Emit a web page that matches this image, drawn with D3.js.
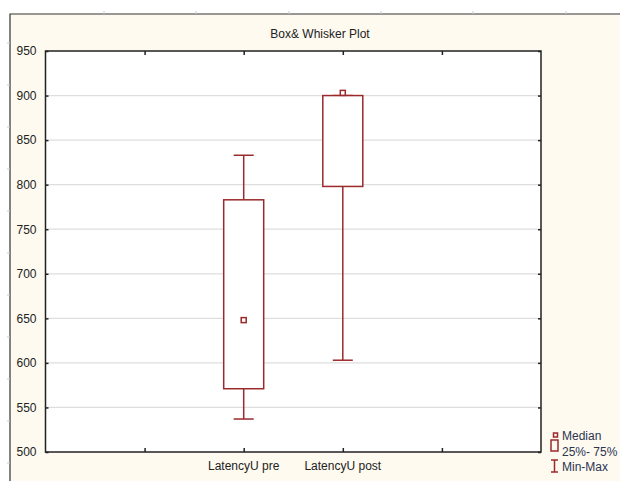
<!DOCTYPE html>
<html>
<head>
<meta charset="utf-8">
<script src="https://cdnjs.cloudflare.com/ajax/libs/d3/7.8.5/d3.min.js"></script>
<style>
  body { margin: 0; background: #fff; }
  svg { display: block; font-family: "Liberation Sans", Arial, sans-serif; }
</style>
</head>
<body>
<svg width="620" height="481"></svg>
<script>
// box & whisker values
var categories = ['LatencyU pre', 'LatencyU post'];
var catPos = [2, 3];
var mins = [537, 603];
var q1s = [571, 798];
var medians = [648, 903];
var q3s = [783, 900];
var maxs = [833, 900];
var yTicks = [500, 550, 600, 650, 700, 750, 800, 850, 900, 950];
var xTicks = [1, 2, 3, 4];
var legendLabels = ['Median', '25%- 75%', 'Min-Max'];

var svg = d3.select('svg');
var red = '#9a2a2c';
var plotL = 45.5, plotR = 541, plotT = 51, plotB = 452;

var x = d3.scaleLinear().domain([0, 5]).range([plotL, plotR]);
var y = d3.scaleLinear().domain([500, 950]).range([plotB, plotT]);

// outer frame
svg.append('rect').attr('x', 10).attr('y', 14).attr('width', 610).attr('height', 467).attr('fill', '#fefaf0');
svg.append('path').attr('d', 'M10,481V14H620').attr('fill', 'none').attr('stroke', '#333').attr('stroke-width', 1.2);
[104, 196, 289, 381, 473, 566].forEach(function(t) {
  svg.append('line').attr('x1', t).attr('x2', t).attr('y1', 11).attr('y2', 14).attr('stroke', '#c4cad6');
});
d3.range(43, 481, 42).forEach(function(t) {
  svg.append('line').attr('x1', 7).attr('x2', 10).attr('y1', t).attr('y2', t).attr('stroke', '#c4cad6');
});

svg.append('text').attr('x', 320).attr('y', 38).attr('text-anchor', 'middle')
  .attr('font-size', 12).attr('fill', '#222').text('Box& Whisker Plot');

// plot area
svg.append('rect').attr('x', plotL).attr('y', plotT).attr('width', plotR - plotL).attr('height', plotB - plotT).attr('fill', '#fff');

svg.append('g').selectAll('line').data(yTicks.slice(1, -1)).enter().append('line')
  .attr('x1', plotL).attr('x2', plotR)
  .attr('y1', function(d) { return y(d); }).attr('y2', function(d) { return y(d); })
  .attr('stroke', '#dedede').attr('stroke-width', 1.2);

var yAxis = svg.append('g').attr('transform', 'translate(' + plotL + ',0)')
  .call(d3.axisLeft(y).tickValues(yTicks).tickSize(-3).tickPadding(9));
var yAxisR = svg.append('g').attr('transform', 'translate(' + plotR + ',0)')
  .call(d3.axisRight(y).tickValues(yTicks).tickSize(-3).tickFormat(''));
var xAxis = svg.append('g').attr('transform', 'translate(0,' + plotB + ')')
  .call(d3.axisBottom(x).tickValues(xTicks).tickSize(-4).tickFormat(''));
var xAxisT = svg.append('g').attr('transform', 'translate(0,' + plotT + ')')
  .call(d3.axisTop(x).tickValues(xTicks).tickSize(-4).tickFormat(''));

[yAxis, yAxisR, xAxis, xAxisT].forEach(function(a) {
  a.select('.domain').remove();
  a.selectAll('line').attr('stroke', '#222').attr('stroke-width', 1.5);
  a.selectAll('text').attr('font-size', 12).attr('fill', '#222').attr('font-family', 'Liberation Sans, Arial, sans-serif');
});

svg.append('rect').attr('x', plotL).attr('y', plotT).attr('width', plotR - plotL).attr('height', plotB - plotT)
  .attr('fill', 'none').attr('stroke', '#222').attr('stroke-width', 1.5);

// category labels
svg.append('g').selectAll('text').data(categories).enter().append('text')
  .attr('x', function(d, i) { return x(catPos[i]); }).attr('y', plotB + 18)
  .attr('text-anchor', 'middle').attr('font-size', 12).attr('fill', '#222')
  .text(function(d) { return d; });

// boxes
var boxW = 40, capW = 20, medS = 5;
var g = svg.append('g').attr('fill', 'none').attr('stroke', red).attr('stroke-width', 1.5);
categories.forEach(function(c, i) {
  var cx = x(catPos[i]);
  g.append('line').attr('x1', cx).attr('x2', cx).attr('y1', y(maxs[i])).attr('y2', y(q3s[i]));
  g.append('line').attr('x1', cx).attr('x2', cx).attr('y1', y(q1s[i])).attr('y2', y(mins[i]));
  g.append('line').attr('x1', cx - capW / 2).attr('x2', cx + capW / 2).attr('y1', y(maxs[i])).attr('y2', y(maxs[i]));
  g.append('line').attr('x1', cx - capW / 2).attr('x2', cx + capW / 2).attr('y1', y(mins[i])).attr('y2', y(mins[i]));
  g.append('rect').attr('x', cx - boxW / 2).attr('y', y(q3s[i]))
    .attr('width', boxW).attr('height', y(q1s[i]) - y(q3s[i])).attr('fill', '#fff');
  g.append('rect').attr('x', cx - medS / 2).attr('y', y(medians[i]) - medS / 2)
    .attr('width', medS).attr('height', medS).attr('fill', '#fff');
});

// legend
var lg = svg.append('g').attr('fill', 'none').attr('stroke', red).attr('stroke-width', 1.5);
lg.append('rect').attr('x', 553.5).attr('y', 433).attr('width', 4).attr('height', 4);
lg.append('rect').attr('x', 551).attr('y', 440).attr('width', 7).attr('height', 11);
lg.append('path').attr('d', 'M551,460H558M554.5,460V472M551,472H558');
svg.append('g').selectAll('text').data(legendLabels).enter().append('text')
  .attr('x', 562).attr('y', function(d, i) { return 440 + i * 15.5; })
  .attr('font-size', 12).attr('fill', '#2b3550')
  .text(function(d) { return d; });
</script>
</body>
</html>
